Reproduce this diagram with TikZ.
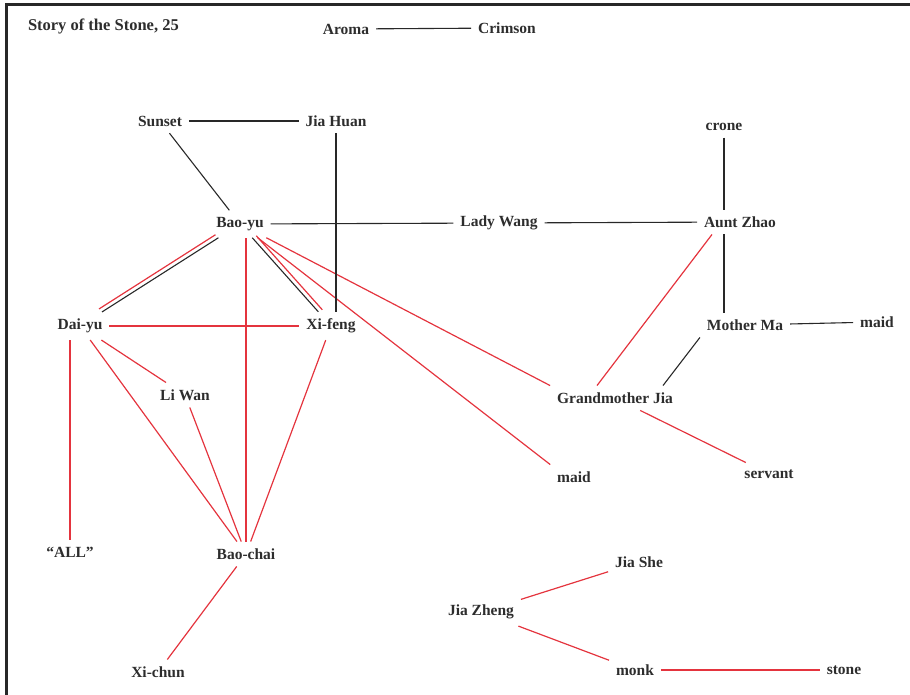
\documentclass[tikz,border=0pt]{standalone}
\usepackage{fontspec}
\setmainfont{Liberation Serif}
\usetikzlibrary{positioning,calc}
\definecolor{kinred}{RGB}{228,52,62}
\definecolor{tiegray}{RGB}{40,40,40}
\definecolor{namegray}{RGB}{45,45,45}
\tikzstyle{person} = [font=\fontsize{15.5}{18}\selectfont\bfseries, text=namegray, inner sep=5pt, outer sep=2pt]
\tikzstyle{tie} = [draw=tiegray, line width=1.1pt]
\tikzstyle{kin} = [draw=kinred, line width=1.2pt]

\begin{document}
\begin{tikzpicture}[x=1pt, y=-1pt]
\useasboundingbox (0,0) rectangle (910,695);

% Frame (top and left edges only)
\draw[line width=3pt, tiegray] (910,5) -- (6,5) -- (6,695);

% Title
\node[person, anchor=west, font=\fontsize{16.5}{19}\selectfont\bfseries] (title) at (21,26) {Story of the Stone, 25};

% Top row
\node[person] (aroma) at (346,29) {Aroma};
\node[person] (crimson) at (507,28) {Crimson};
\node[person] (sunset) at (160,121) {Sunset};
\node[person] (jiahuan) at (336,121) {Jia Huan};
\node[person] (crone) at (724,127) {crone};

% Bao-yu row
\node[person] (baoyu) at (240,224) {Bao-yu};
\node[person] (ladywang) at (499,223) {Lady Wang};
\node[person] (auntzhao) at (740,222) {Aunt Zhao};

% Middle rows
\node[person] (daiyu) at (80,326) {Dai-yu};
\node[person] (xifeng) at (331,326) {Xi-feng};
\node[person] (motherma) at (745,325) {Mother Ma};
\node[person] (maidma) at (877,322) {maid};
\node[person] (liwan) at (185,395) {Li Wan};
\node[person] (grandma) at (615,398) {Grandmother Jia};
\node[person] (maidbao) at (574,477) {maid};
\node[person] (servant) at (769,474) {servant};

% Lower rows
\node[person] (all) at (70,552) {``ALL''};
\node[person] (baochai) at (246,554) {Bao-chai};
\node[person] (jiashe) at (639,562) {Jia She};
\node[person] (jiazheng) at (481,612) {Jia Zheng};
\node[person] (xichun) at (158,672) {Xi-chun};
\node[person] (monk) at (635,670) {monk};
\node[person] (stone) at (844,670) {stone};

% Red ties
\path[kin] (monk) -- (stone);
\path[kin] (jiazheng) -- (jiashe);
\path[kin] (jiazheng) -- (monk);
\path[kin] (baochai) -- (xichun);
\path[kin] (grandma) -- (servant);
\path[kin] (baochai) -- (baochai |- baoyu.south);
\path[kin] (baoyu) -- (maidbao.north west);
\path[kin] (baoyu) -- (grandma.north west);
\path[kin] ([xshift=-28pt]auntzhao.south) -- ([xshift=-18pt]grandma.north);
\path[kin] (daiyu) -- (xifeng);
\path[kin] (all) -- (all |- daiyu.south);
\path[kin] (daiyu) -- (liwan);
\path[kin] (daiyu) -- (baochai);
\path[kin] (liwan) -- (baochai);
\path[kin] (xifeng) -- (baochai);
\path[kin, transform canvas={shift={(-3pt,3pt)}}] (baoyu) -- (daiyu);
\path[kin, transform canvas={shift={(4pt,2pt)}}] (baoyu) -- (xifeng);

% Black ties
\path[tie] (aroma) -- (crimson);
\path[tie] (sunset) -- (jiahuan);
\path[tie] (sunset) -- (baoyu);
\path[tie] (jiahuan.south) -- (jiahuan.south |- xifeng.north);
\path[tie] (baoyu) -- (ladywang);
\path[tie] (ladywang) -- (auntzhao);
\path[tie] (crone) -- (crone |- auntzhao.north);
\path[tie] (crone |- auntzhao.south) -- (crone |- motherma.north);
\path[tie] (motherma) -- (maidma);
\path[tie] (motherma.south west) -- ([xshift=48pt]grandma.north);
\path[tie] (baoyu) -- (daiyu);
\path[tie] (baoyu) -- (xifeng);

\end{tikzpicture}
\end{document}
